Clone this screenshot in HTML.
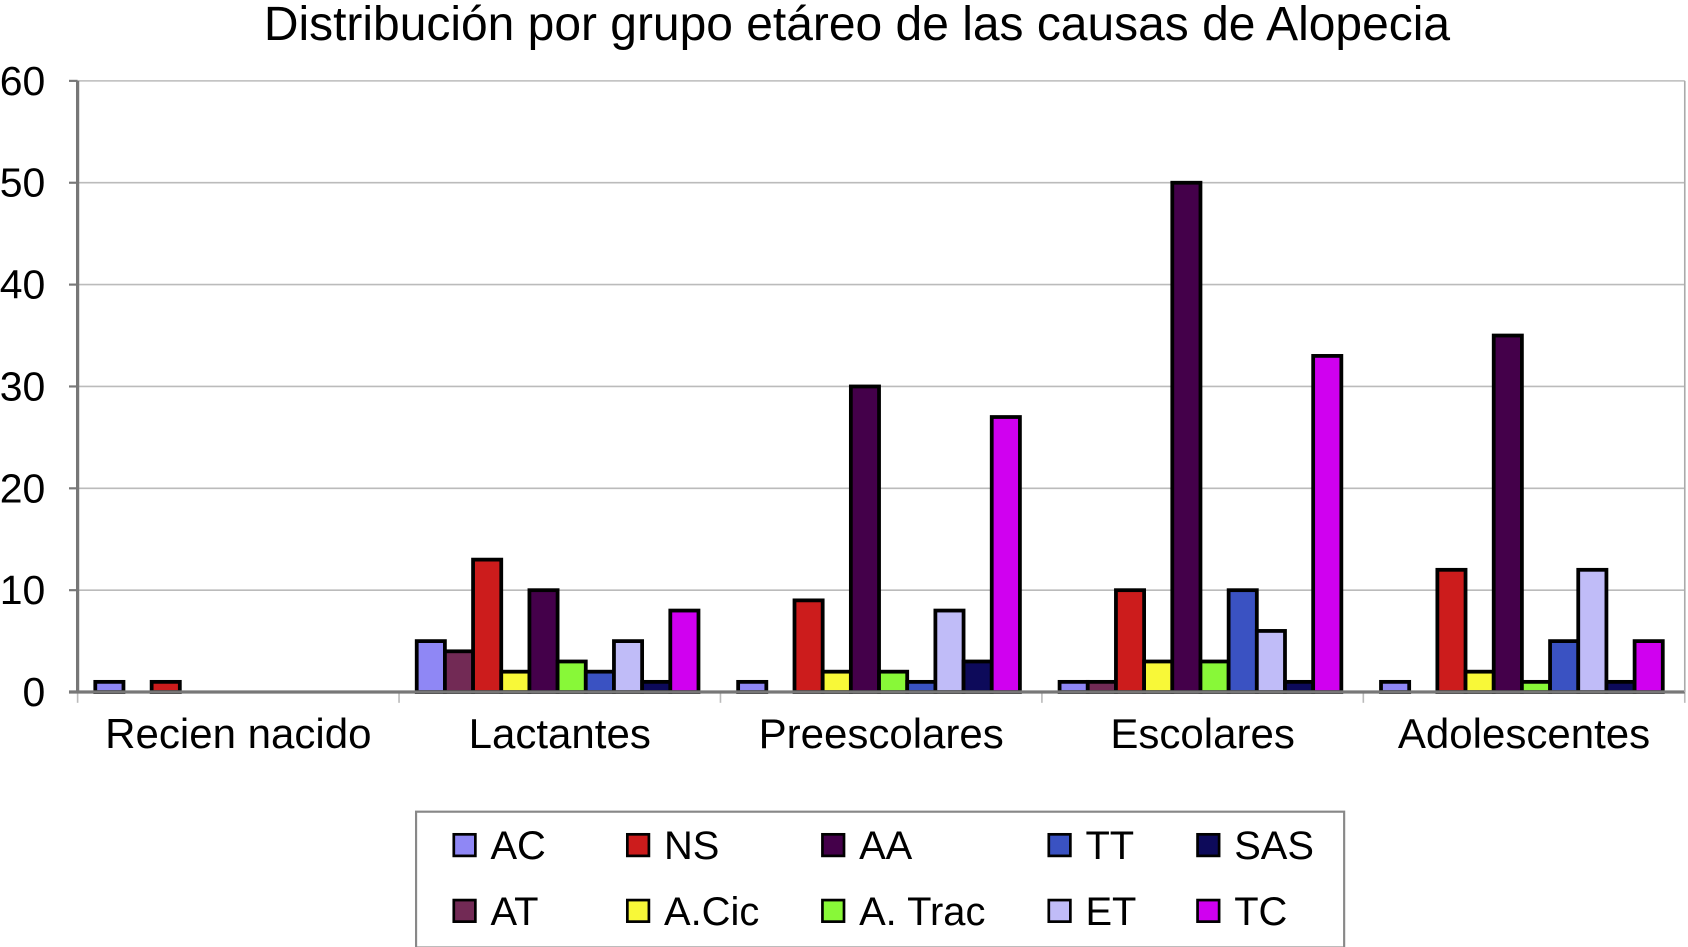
<!DOCTYPE html>
<html><head><meta charset="utf-8"><style>
html,body{margin:0;padding:0;background:#fff;}
svg{display:block;font-family:"Liberation Sans",Arial,sans-serif;}
</style></head><body>
<svg id="chart" width="1688" height="947" viewBox="0 0 1566 878.5" xmlns="http://www.w3.org/2000/svg">
<text x="795" y="37" font-size="44.5" text-anchor="middle" fill="#000">Distribución por grupo etáreo de las causas de Alopecia</text>
<g id="grid"></g><g id="bars"></g><g id="axes"></g>
<g id="legend">
<rect x="386" y="753" width="861" height="126" fill="#fff" stroke="#888" stroke-width="2"/>
</g>
</svg>
<script>
const categories=["Recien nacido","Lactantes","Preescolares","Escolares","Adolescentes"];
const seriesNames=["AC","AT","NS","A.Cic","AA","A. Trac","TT","ET","SAS","TC"];
const seriesColors=["#8f87f5","#722a55","#cc1c1c","#f8f838","#44004a","#88f838","#3a52c2","#c0bcf8","#0d0a5a","#d000f0"];
const valAC=[1,5,1,1,1];
const valAT=[0,4,0,1,0];
const valNS=[1,13,9,10,12];
const valACic=[0,2,2,3,2];
const valAA=[0,10,30,50,35];
const valATrac=[0,3,2,3,1];
const valTT=[0,2,1,10,5];
const valET=[0,5,8,6,12];
const valSAS=[0,1,3,1,1];
const valTC=[0,8,27,33,5];
const yTicks=[0,10,20,30,40,50,60];
const legendOrder=[0,2,4,6,8,1,3,5,7,9];
const series=[valAC,valAT,valNS,valACic,valAA,valATrac,valTT,valET,valSAS,valTC];
const NS="http://www.w3.org/2000/svg";
const L=72,R=1563,T=75,B=642,yMax=60;
const y=v=>B-(v/yMax)*(B-T);
const gw=(R-L)/categories.length;
const gx=i=>L+i*gw;
function mk(tag,attrs,parent){const e=document.createElementNS(NS,tag);for(const k in attrs)e.setAttribute(k,attrs[k]);parent.appendChild(e);return e;}
const grid=document.getElementById('grid'),bars=document.getElementById('bars'),axes=document.getElementById('axes'),leg=document.getElementById('legend');
yTicks.forEach(t=>{
  if(t>0){const g=mk('line',{x1:L,x2:R,y1:y(t),y2:y(t),stroke:'#bbb','stroke-width':1.5},grid);
  
  }
  const tk=mk('line',{x1:L-8,x2:L,y1:y(t),y2:y(t),stroke:'#777','stroke-width':2},axes);
  
  
  const tx=mk('text',{x:42,y:y(t)+13,'font-size':38,'text-anchor':'end'},axes);
  
  
  tx.textContent=t;
});
const pad=gw*0.055, bw=(gw-2*pad-4)/series.length;
categories.forEach((c,i)=>{
  series.forEach((s,j)=>{
    const v=s[i]; if(!v) return;
    const r=mk('rect',{x:gx(i)+pad+j*bw,y:y(v),width:bw,height:B-y(v),fill:seriesColors[j],stroke:'#000','stroke-width':3.5},bars);
    
    
  });
  const lb=mk('text',{x:gx(i)+gw/2,y:694,'font-size':39,'text-anchor':'middle'},axes);
  
  
  lb.textContent=c;
});
for(let i=0;i<=categories.length;i++){
  const t=mk('line',{x1:gx(i),x2:gx(i),y1:B,y2:B+10,stroke:'#bbb','stroke-width':1.5},axes);
  
  
}
const ax=mk('line',{x1:L,x2:L,y1:T,y2:B+1,stroke:'#777','stroke-width':3},axes);


const axb=mk('line',{x1:L-8,x2:R,y1:B,y2:B,stroke:'#777','stroke-width':3},axes);


const axr=mk('line',{x1:R,x2:R,y1:T,y2:B,stroke:'#aaa','stroke-width':1.5},axes);


const colX=[421,582,763,973,1111];
legendOrder.forEach((si,k)=>{
  const row=Math.floor(k/5),col=k%5;
  const cy=row?845:784;
  const g=mk('g',{},leg);
  
  
  mk('rect',{x:colX[col],y:cy-10,width:20,height:20,fill:seriesColors[si],stroke:'#000','stroke-width':2.5},g);
  const t=mk('text',{x:colX[col]+34,y:cy+13,'font-size':37},g);
  t.textContent=seriesNames[si];
});
</script>
</body></html>
